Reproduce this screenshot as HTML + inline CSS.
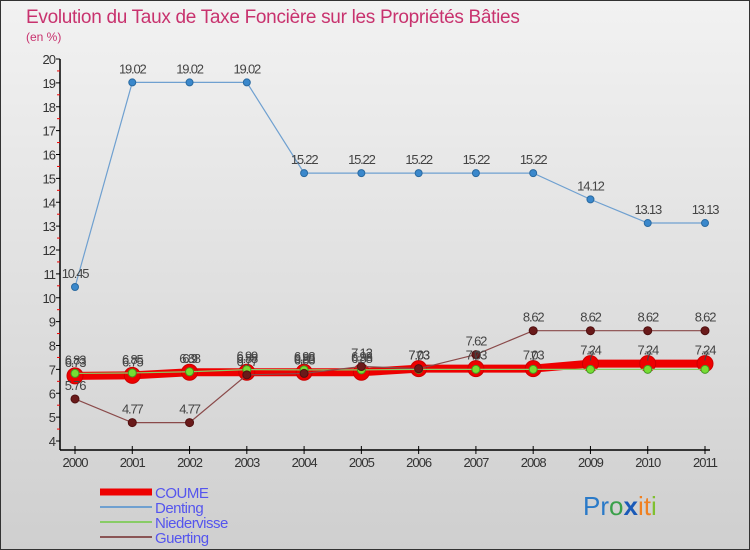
<!DOCTYPE html>
<html><head><meta charset="utf-8"><style>
body{margin:0;}
svg{display:block;font-family:"Liberation Sans",sans-serif;}
</style></head><body>
<svg id="chart" width="750" height="550" viewBox="0 0 750 550">
<defs><linearGradient id="bg" x1="0" y1="0" x2="0" y2="1"><stop offset="0" stop-color="#f2f2f2"/><stop offset="1" stop-color="#cfcfcf"/></linearGradient></defs>
<rect x="0.5" y="0.5" width="749" height="549" fill="url(#bg)" stroke="#333"/>
<text x="26" y="23" font-size="19" fill="#c8326e" letter-spacing="-0.3">Evolution du Taux de Taxe Foncière sur les Propriétés Bâties</text>
<text x="26" y="41" font-size="12" fill="#c8326e">(en %)</text>
<g id="axes"></g><g id="series"></g><g id="labels"></g>
<g>
<g><line x1="100" y1="492" x2="152" y2="492" stroke="#ee0000" stroke-width="7"/><text x="155" y="498" font-size="15" fill="#5555ee" letter-spacing="-0.5">COUME</text></g>
<g><line x1="100" y1="507" x2="152" y2="507" stroke="#6fa0d0" stroke-width="2"/><text x="155" y="513" font-size="15" fill="#5555ee" letter-spacing="-0.5">Denting</text></g>
<g><line x1="100" y1="522" x2="152" y2="522" stroke="#88cc66" stroke-width="2"/><text x="155" y="528" font-size="15" fill="#5555ee" letter-spacing="-0.5">Niedervisse</text></g>
<g><line x1="100" y1="537" x2="152" y2="537" stroke="#8a5555" stroke-width="2"/><text x="155" y="543" font-size="15" fill="#5555ee" letter-spacing="-0.5">Guerting</text></g>
</g>
<text x="583" y="515" font-size="26"><tspan fill="#2a7ac8">Pr</tspan><tspan fill="#3aa04a">o</tspan><tspan fill="#1a5ab8" font-weight="bold">x</tspan><tspan fill="#f08020">it</tspan><tspan fill="#80c030">i</tspan></text>
</svg>
<script>
const years=[2000,2001,2002,2003,2004,2005,2006,2007,2008,2009,2010,2011];
const yTicks=[4,5,6,7,8,9,10,11,12,13,14,15,16,17,18,19,20];
const coume=[6.73,6.75,6.88,6.88,6.88,6.88,7.03,7.03,7.03,7.24,7.24,7.24];
const denting=[10.45,19.02,19.02,19.02,15.22,15.22,15.22,15.22,15.22,14.12,13.13,13.13];
const niedervisse=[6.83,6.85,6.9,6.99,6.98,6.98,7,7,7,7,7,7];
const guerting=[5.76,4.77,4.77,6.77,6.83,7.12,7.03,7.62,8.62,8.62,8.62,8.62];
const NS="http://www.w3.org/2000/svg";
const xs=i=>75+i*(630/11);
const ys=v=>441-(v-4)*23.875;
function mk(tag,attrs,parent){const e=document.createElementNS(NS,tag);for(const k in attrs)e.setAttribute(k,attrs[k]);parent.appendChild(e);return e;}
const ax=document.getElementById('axes');
const yl=mk('line',{x1:60,y1:ys(20),x2:60,y2:450,stroke:'#000','stroke-width':1.5},ax);


const xl=mk('line',{x1:60,y1:450,x2:710,y2:450,stroke:'#000','stroke-width':1.5},ax);


yTicks.forEach((t,i)=>{
  mk('line',{x1:56,y1:ys(t),x2:60,y2:ys(t),stroke:'#000'},ax);
  if(i<yTicks.length-1)mk('line',{x1:57,y1:ys(t+0.5),x2:60,y2:ys(t+0.5),stroke:'#e00'},ax);
  const tx=mk('text',{x:55,y:ys(t)+5,'font-size':13,'text-anchor':'end',fill:'#333','letter-spacing':'-1'},ax);
  tx.textContent=t;
  
  
});
years.forEach((y,i)=>{
  mk('line',{x1:xs(i),y1:446,x2:xs(i),y2:454,stroke:'#000'},ax);
  const tx=mk('text',{x:xs(i),y:467,'font-size':13,'text-anchor':'middle',fill:'#333','letter-spacing':'-1'},ax);
  tx.textContent=y;
  
  
});
const sg=document.getElementById('series'),lg=document.getElementById('labels');
function draw(name,vals,color,w,r,fill,stroke){
  const g=mk('g',{},sg);
  
  
  const p=mk('polyline',{points:vals.map((v,i)=>xs(i)+','+ys(v)).join(' '),fill:'none',stroke:color,'stroke-width':w},g);
  
  
  vals.forEach((v,i)=>{
    const c=mk('circle',{cx:xs(i),cy:ys(v),r:r,fill:fill,stroke:stroke,'stroke-width':1},g);
    
    
    const t=mk('text',{x:xs(i),y:ys(v)-9,'font-size':13,'text-anchor':'middle',fill:'#444','letter-spacing':'-1.2'},lg);
    t.textContent=v;
    
    
  });
}
draw('coume',coume,'#ee0000',8,8,'#ee0000','#cc0000');
draw('denting',denting,'#6fa0d0',1.2,3.5,'#3a88cc','#2a6aa0');
draw('niedervisse',niedervisse,'#88cc66',1.2,4,'#77dd33','#449922');
draw('guerting',guerting,'#8a4a4a',1.2,4,'#6a1a1a','#501010');
</script>
</body></html>
